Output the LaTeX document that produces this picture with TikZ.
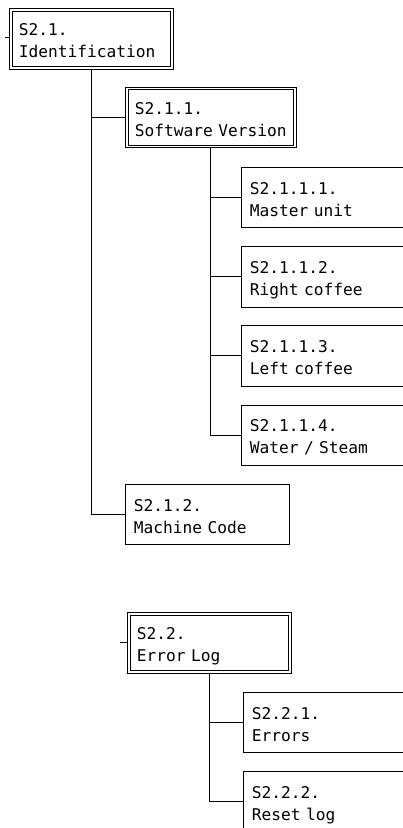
\documentclass[tikz,border=0pt]{standalone}
\usepackage{fontspec}
\usepackage{tikz}
\usetikzlibrary{positioning}
\newfontfamily\menufont{DejaVu Sans Mono}
\newcommand{\menuentry}[2]{\rule{0pt}{19pt}#1\\#2\rule[-4pt]{0pt}{4pt}}

\begin{document}
\begin{tikzpicture}[
  x=1pt, y=-1pt,
  menu/.style={rectangle, draw, line width=0.7pt, align=left, anchor=west, inner xsep=8.5pt, inner ysep=0pt, text width=147pt, minimum height=60.5pt, font=\menufont\fontsize{16.2}{22}\selectfont},
  submenu/.style={menu, line width=0.8pt, inner xsep=9.5pt, text width=145pt, minimum height=60.7pt,
    append after command={\pgfextra{\draw[line width=0.8pt] ([xshift=3pt,yshift=-3pt]\tikzlastnode.north west) rectangle ([xshift=-3pt,yshift=3pt]\tikzlastnode.south east);}}},
  link/.style={line width=0.9pt},
  node distance=18pt
]
  \useasboundingbox (0,0) rectangle (402,828);

  \node[submenu] (ident) at (9,39) {\menuentry{S2.1.}{Identification}};
  \node[submenu, text width=152pt] (softw) at (125,117.5) {\menuentry{S2.1.1.}{Software Version}};
  \node[menu, text width=163pt] (master) at (241,197.5) {\menuentry{S2.1.1.1.}{Master unit}};
  \node[menu, text width=163pt, below=of master] (rcoffee) {\menuentry{S2.1.1.2.}{Right coffee}};
  \node[menu, text width=163pt, below=of rcoffee] (lcoffee) {\menuentry{S2.1.1.3.}{Left coffee}};
  \node[menu, text width=163pt, below=of lcoffee] (water) {\menuentry{S2.1.1.4.}{Water / Steam}};
  \node[menu] (mcode) at (125,514.5) {\menuentry{S2.1.2.}{Machine Code}};

  \node[submenu] (errlog) at (127,643) {\menuentry{S2.2.}{Error Log}};
  \node[menu, text width=163pt] (errors) at (243,722.5) {\menuentry{S2.2.1.}{Errors}};
  \node[menu, text width=163pt, below=of errors] (resetlog) {\menuentry{S2.2.2.}{Reset log}};

  \coordinate (identstub) at (5,37);
  \coordinate (errstub) at (120,642);

  \draw[line width=0.6pt] (identstub) -- (identstub -| ident.west);
  \draw[line width=0.6pt] (errstub) -- (errstub -| errlog.west);
  \draw[link] (ident.south) |- (softw.west);
  \draw[link] (ident.south) |- (mcode.west);
  \draw[link] (softw.south) |- (master.west);
  \draw[link] (softw.south) |- (rcoffee.west);
  \draw[link] (softw.south) |- (lcoffee.west);
  \draw[link] (softw.south) |- (water.west);
  \draw[link] (errlog.south) |- (errors.west);
  \draw[link] (errlog.south) |- (resetlog.west);
\end{tikzpicture}
\end{document}
